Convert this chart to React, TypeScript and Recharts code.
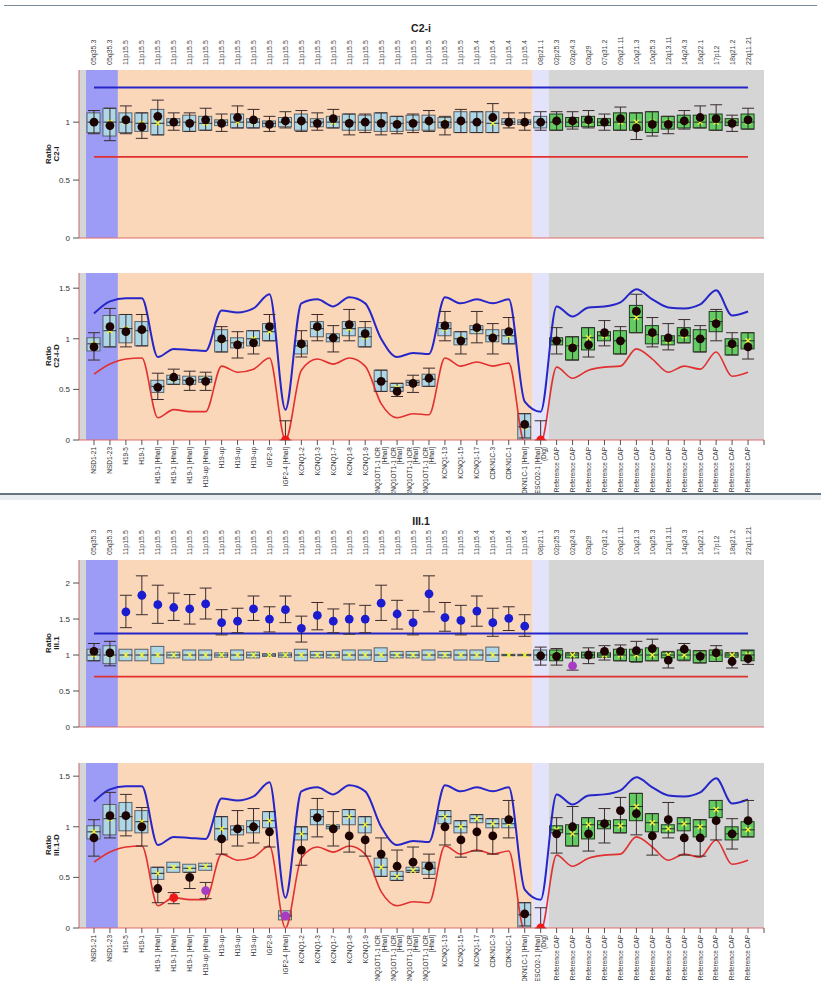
import React from 'react';
import {
  ComposedChart,
  XAxis,
  YAxis,
  Bar,
  Line,
  Scatter,
  ErrorBar,
  ReferenceArea,
  ReferenceLine,
} from 'recharts';

// chromosome bands (top axis) and probe names (bottom axis), one per probe
const BANDS = [
  '05q35.3', '05q35.3',
  '11p15.5', '11p15.5', '11p15.5', '11p15.5', '11p15.5', '11p15.5', '11p15.5', '11p15.5', '11p15.5', '11p15.5', '11p15.5',
  '11p15.5', '11p15.5', '11p15.5', '11p15.5', '11p15.5', '11p15.5', '11p15.5', '11p15.5', '11p15.5', '11p15.5', '11p15.5',
  '11p15.4', '11p15.4', '11p15.4', '11p15.4',
  '08p21.1',
  '02p25.3', '02q24.3', '03q29', '07q31.2', '09q21.11', '10q21.3', '10q25.3', '12q13.11', '14q24.3', '16q22.1', '17p12', '18q21.2', '22q11.21',
];

const PROBES = [
  'NSD1-21', 'NSD1-23', 'H19-5', 'H19-1', 'H19-1 [HhaI]', 'H19-1 [HhaI]', 'H19-1 [HhaI]', 'H19-up [HhaI]', 'H19-up', 'H19-up', 'H19-up',
  'IGF2-8', 'IGF2-4 [HhaI]', 'KCNQ1-2', 'KCNQ1-3', 'KCNQ1-7', 'KCNQ1-8', 'KCNQ1-9',
  'KCNQ1OT1-1 ICR\n[HhaI]', 'KCNQ1OT1-1 ICR\n[HhaI]', 'KCNQ1OT1-1 ICR\n[HhaI]', 'KCNQ1OT1-1 ICR\n[HhaI]',
  'KCNQ1-13', 'KCNQ1-15', 'KCNQ1-17', 'CDKN1C-3', 'CDKN1C-1', 'CDKN1C-1 [HhaI]', 'ESCO2-1 [HhaI]\n(Dig)',
  'Reference CAP', 'Reference CAP', 'Reference CAP', 'Reference CAP', 'Reference CAP', 'Reference CAP', 'Reference CAP',
  'Reference CAP', 'Reference CAP', 'Reference CAP', 'Reference CAP', 'Reference CAP', 'Reference CAP',
];

// shaded regions, in probe-index units
const REGIONS = [
  { from: 0.06, to: 0.5, fill: '#d5d5d5' },
  { from: 0.5, to: 2.5, fill: '#9c9cf6' },
  { from: 2.5, to: 28.5, fill: '#fbd7ba' },
  { from: 28.5, to: 29.5, fill: '#e3e3fb' },
  { from: 29.5, to: 43, fill: '#d5d5d5' },
];
const FIRST_REF = 30;

// ---- C2-i ratio
const C2I_MEAN = [1.00, 0.97, 1.02, 0.96, 1.05, 1.00, 0.99, 1.02, 0.99, 1.04, 1.02, 0.98, 1.01, 1.01, 0.99, 1.03, 0.99, 1.00, 0.99, 0.98, 0.99, 1.01, 0.98, 1.01, 1.00, 1.04, 1.00, 1.00, 1.00, 1.01, 1.01, 1.02, 1.00, 1.03, 0.95, 0.98, 0.98, 1.01, 1.04, 1.03, 0.99, 1.02];
const C2I_LO = [0.91, 0.88, 0.91, 0.92, 0.89, 0.97, 0.92, 0.93, 0.97, 0.95, 0.95, 0.96, 0.96, 0.93, 0.96, 0.95, 0.93, 0.93, 0.92, 0.92, 0.93, 0.93, 0.95, 0.91, 0.91, 0.91, 0.98, 0.98, 0.95, 0.93, 0.96, 0.96, 0.97, 0.93, 0.93, 0.91, 0.94, 0.95, 0.95, 0.93, 0.97, 0.94];
const C2I_HI = [1.08, 1.12, 1.08, 1.08, 1.11, 1.03, 1.06, 1.05, 1.02, 1.07, 1.03, 1.01, 1.04, 1.07, 1.03, 1.05, 1.07, 1.06, 1.08, 1.05, 1.06, 1.06, 1.04, 1.09, 1.09, 1.09, 1.03, 1.02, 1.05, 1.07, 1.04, 1.05, 1.03, 1.08, 1.08, 1.09, 1.05, 1.06, 1.06, 1.07, 1.03, 1.07];
const C2I_MED = [1.00, 1.00, 1.00, 0.99, 0.99, 1.00, 1.00, 0.99, 1.00, 1.00, 1.00, 0.99, 1.00, 1.00, 1.00, 1.00, 1.00, 1.00, 1.00, 0.99, 1.00, 1.00, 1.00, 1.00, 1.00, 0.99, 1.00, 1.00, 1.00, 1.00, 1.00, 1.00, 1.00, 1.00, 1.00, 1.00, 1.00, 1.00, 1.00, 1.00, 1.00, 1.00];
const C2I_WLO = [0.90, 0.84, 0.90, 0.86, 0.89, 0.93, 0.92, 0.93, 0.92, 0.95, 0.95, 0.92, 0.95, 0.92, 0.93, 0.95, 0.89, 0.91, 0.89, 0.90, 0.91, 0.92, 0.89, 0.91, 0.91, 0.91, 0.95, 0.93, 0.93, 0.93, 0.94, 0.95, 0.93, 0.93, 0.85, 0.88, 0.90, 0.94, 0.95, 0.93, 0.92, 0.94];
const C2I_WHI = [1.10, 1.12, 1.14, 1.08, 1.19, 1.08, 1.08, 1.12, 1.07, 1.14, 1.11, 1.05, 1.09, 1.10, 1.08, 1.11, 1.07, 1.07, 1.08, 1.05, 1.07, 1.10, 1.05, 1.11, 1.09, 1.16, 1.08, 1.08, 1.09, 1.09, 1.09, 1.10, 1.07, 1.13, 1.08, 1.09, 1.05, 1.10, 1.14, 1.15, 1.06, 1.12];
const C2I_DOTS = 'kkkkkkkkkkkkkkkkkkkkkkkkkkkkkkkkkkkkkkkkkk';

// ---- C2-i-D ratio
const C2ID_MEAN = [0.92, 1.12, 1.07, 1.09, 0.52, 0.62, 0.58, 0.58, 1.00, 0.94, 0.96, 1.12, 0.00, 0.95, 1.12, 1.01, 1.14, 1.05, 0.58, 0.48, 0.56, 0.61, 1.13, 0.98, 1.11, 1.01, 1.07, 0.155, 0.00, 0.98, 0.91, 0.94, 1.06, 0.98, 1.27, 1.06, 1.01, 1.06, 1.00, 1.15, 0.95, 0.92];
const C2ID_LO = [0.88, 0.92, 0.96, 0.93, 0.47, 0.55, 0.55, 0.57, 0.87, 0.91, 0.93, 0.98, null, 0.85, 1.02, 0.97, 1.03, 0.92, 0.48, 0.48, 0.54, 0.53, 1.03, 0.94, 1.05, 0.97, 0.95, 0.00, null, 0.94, 0.79, 0.89, 0.98, 0.85, 1.06, 0.95, 0.94, 0.96, 0.87, 1.07, 0.84, 0.90];
const C2ID_HI = [1.01, 1.23, 1.24, 1.17, 0.59, 0.64, 0.63, 0.63, 1.09, 1.01, 1.08, 1.15, null, 0.98, 1.17, 1.05, 1.17, 1.11, 0.69, 0.56, 0.59, 0.65, 1.16, 1.07, 1.13, 1.09, 1.09, 0.26, null, 1.01, 1.02, 1.11, 1.07, 1.08, 1.33, 1.13, 1.03, 1.11, 1.09, 1.27, 1.00, 1.06];
const C2ID_MED = [0.95, 1.08, 1.10, 1.08, 0.53, 0.60, 0.59, 0.60, 0.98, 0.96, 1.00, 1.07, null, 0.93, 1.10, 1.01, 1.10, 1.02, 0.58, 0.52, 0.57, 0.60, 1.10, 1.00, 1.09, 1.03, 1.03, 0.13, null, 0.98, 0.93, 1.01, 1.03, 0.98, 1.21, 1.04, 0.98, 1.03, 1.00, 1.17, 0.93, 0.98];
const C2ID_WLO = [0.79, 0.92, 0.92, 0.93, 0.40, 0.55, 0.49, 0.49, 0.87, 0.81, 0.85, 0.98, 0.00, 0.82, 0.98, 0.87, 0.98, 0.92, 0.48, 0.43, 0.47, 0.53, 0.98, 0.85, 0.96, 0.85, 0.95, 0.02, 0.00, 0.85, 0.79, 0.82, 0.93, 0.85, 1.06, 0.92, 0.89, 0.96, 0.87, 0.98, 0.84, 0.80];
const C2ID_WHI = [1.06, 1.30, 1.24, 1.24, 0.66, 0.70, 0.68, 0.67, 1.12, 1.07, 1.08, 1.24, 0.19, 1.08, 1.24, 1.13, 1.29, 1.17, 0.69, 0.56, 0.64, 0.71, 1.27, 1.07, 1.27, 1.15, 1.21, 0.26, 0.19, 1.11, 1.02, 1.11, 1.18, 1.12, 1.44, 1.21, 1.15, 1.19, 1.13, 1.29, 1.06, 1.06];
const C2ID_DOTS = 'kkkkkkkkkkkkrkkkkkkkkkkkkkkkrkkkkkkkkkkkkk';

// ---- III.1 ratio
const III1_MEAN = [1.05, 1.03, 1.60, 1.83, 1.70, 1.66, 1.64, 1.71, 1.45, 1.47, 1.64, 1.50, 1.63, 1.37, 1.55, 1.47, 1.50, 1.50, 1.72, 1.57, 1.45, 1.85, 1.52, 1.48, 1.61, 1.45, 1.51, 1.40, 0.99, 0.98, 0.85, 1.00, 1.05, 1.05, 1.06, 1.09, 0.93, 1.08, 0.98, 1.03, 0.91, 0.95];
const III1_LO = [0.92, 0.88, 0.92, 0.92, 0.88, 0.96, 0.93, 0.93, 0.97, 0.93, 0.96, 0.98, 0.97, 0.92, 0.96, 0.96, 0.93, 0.93, 0.91, 0.96, 0.96, 0.93, 0.96, 0.93, 0.93, 0.91, 0.99, 0.99, 0.93, 0.92, 0.96, 0.96, 0.97, 0.92, 0.91, 0.92, 0.96, 0.93, 0.89, 0.91, 0.97, 0.92];
const III1_HI = [1.08, 1.13, 1.08, 1.08, 1.12, 1.04, 1.07, 1.07, 1.03, 1.07, 1.04, 1.02, 1.03, 1.08, 1.05, 1.05, 1.07, 1.07, 1.10, 1.05, 1.05, 1.07, 1.05, 1.07, 1.07, 1.11, 1.01, 1.01, 1.07, 1.07, 1.03, 1.04, 1.03, 1.08, 1.08, 1.10, 1.04, 1.07, 1.06, 1.07, 1.03, 1.07];
const III1_MED = [1.00, 1.00, 1.00, 1.00, 1.00, 1.00, 1.00, 1.00, 1.00, 1.00, 1.00, 1.00, 1.00, 1.00, 1.00, 1.00, 1.00, 1.00, 1.00, 1.00, 1.00, 1.00, 1.00, 1.00, 1.00, 1.00, 1.00, 1.00, 1.00, 1.00, 1.00, 1.00, 1.00, 1.00, 1.00, 1.00, 1.00, 1.00, 1.00, 1.00, 1.00, 1.00];
const III1_WLO = [0.92, 0.85, 1.38, 1.56, 1.44, 1.48, 1.43, 1.50, 1.28, 1.31, 1.48, 1.32, 1.45, 1.18, 1.35, 1.31, 1.29, 1.31, 1.48, 1.36, 1.28, 1.60, 1.33, 1.28, 1.40, 1.26, 1.34, 1.26, 0.86, 0.86, 0.79, 0.88, 0.93, 0.92, 0.90, 0.92, 0.82, 0.92, 0.89, 0.91, 0.82, 0.87];
const III1_WHI = [1.16, 1.19, 1.83, 2.10, 1.97, 1.86, 1.84, 1.93, 1.63, 1.65, 1.82, 1.67, 1.82, 1.54, 1.73, 1.64, 1.71, 1.69, 1.97, 1.76, 1.62, 2.10, 1.73, 1.69, 1.82, 1.65, 1.67, 1.56, 1.11, 1.09, 1.03, 1.10, 1.13, 1.14, 1.19, 1.22, 1.05, 1.16, 1.06, 1.13, 1.03, 1.06];
const III1_DOTS = 'kkbbbbbbbbbbbbbbbbbbbbbbbbbbkkpkkkkkkkkkkk';

// ---- III.1-D ratio
const III1D_MEAN = [0.89, 1.11, 1.11, 1.00, 0.39, 0.30, 0.50, 0.37, 0.88, 0.98, 1.00, 0.95, 0.12, 0.77, 1.09, 0.98, 0.91, 0.87, 0.73, 0.61, 0.65, 0.61, 1.00, 0.87, 0.95, 0.91, 1.07, 0.14, 0.00, 0.93, 1.00, 0.93, 1.03, 1.16, 1.13, 0.91, 1.07, 0.89, 0.89, 1.06, 0.93, 1.06];
const III1D_LO = [0.88, 0.92, 0.96, 0.94, 0.48, 0.55, 0.55, 0.57, 0.87, 0.92, 0.94, 0.99, 0.08, 0.87, 1.02, 0.98, 1.02, 0.94, 0.51, 0.47, 0.55, 0.53, 1.03, 0.94, 1.04, 0.99, 0.99, 0.00, null, 0.94, 0.81, 0.88, 0.98, 0.94, 1.06, 0.95, 0.94, 0.96, 0.90, 1.09, 0.87, 0.90];
const III1D_HI = [1.01, 1.22, 1.24, 1.16, 0.60, 0.65, 0.63, 0.64, 1.10, 1.01, 1.06, 1.15, 0.17, 1.00, 1.17, 1.02, 1.17, 1.10, 0.69, 0.56, 0.60, 0.65, 1.16, 1.06, 1.12, 1.08, 1.08, 0.25, null, 1.01, 1.02, 1.09, 1.06, 1.07, 1.33, 1.13, 1.02, 1.09, 1.07, 1.26, 1.00, 1.05];
const III1D_MED = [0.95, 1.08, 1.10, 1.05, 0.54, 0.60, 0.59, 0.61, 0.98, 0.97, 1.00, 1.06, 0.12, 0.93, 1.10, 1.00, 1.10, 1.02, 0.60, 0.51, 0.57, 0.59, 1.10, 1.00, 1.08, 1.03, 1.03, 0.13, null, 0.97, 0.93, 1.02, 1.02, 1.01, 1.20, 1.04, 0.98, 1.03, 1.00, 1.17, 0.93, 0.97];
const III1D_WLO = [0.71, 0.89, 0.91, 0.81, 0.25, 0.24, 0.39, 0.29, 0.73, 0.81, 0.84, 0.80, null, 0.62, 0.90, 0.81, 0.75, 0.71, 0.51, 0.47, 0.55, 0.49, 0.82, 0.70, 0.76, 0.73, 0.89, 0.02, 0.00, 0.74, 0.81, 0.76, 0.84, 0.94, 0.92, 0.72, 0.89, 0.72, 0.71, 0.87, 0.78, 0.90];
const III1D_WHI = [1.07, 1.34, 1.32, 1.19, 0.60, 0.35, 0.55, 0.45, 1.10, 1.16, 1.18, 1.15, null, 1.00, 1.28, 1.15, 1.17, 1.10, 0.89, 0.77, 0.80, 0.73, 1.16, 1.06, 1.12, 1.08, 1.26, 0.25, 0.20, 1.09, 1.20, 1.09, 1.18, 1.29, 1.33, 1.13, 1.24, 1.09, 1.07, 1.26, 1.08, 1.26];
const III1D_DOTS = 'kkkkkrkpkkkkpkkkkkkkkkkkkkkkrkkkkkkkkkkkkk';

// limits: flat for the ratio panels, per-probe curves for the -D panels
const UPPER_FLAT = 1.3;
const LOWER_FLAT = 0.7;
const UPPER_D = [1.25, 1.37, 1.40, 1.40, 0.82, 0.90, 0.89, 0.88, 1.28, 1.26, 1.30, 1.44, 0.30, 1.35, 1.39, 1.32, 1.41, 1.35, 1.00, 0.82, 0.86, 0.85, 1.41, 1.35, 1.39, 1.35, 1.39, 0.38, 0.28, 1.32, 1.22, 1.31, 1.32, 1.36, 1.49, 1.39, 1.31, 1.30, 1.34, 1.48, 1.23, 1.27];
const LOWER_D = [0.65, 0.75, 0.80, 0.81, 0.22, 0.30, 0.28, 0.28, 0.73, 0.67, 0.70, 0.81, 0.00, 0.69, 0.80, 0.75, 0.81, 0.73, 0.36, 0.22, 0.26, 0.25, 0.81, 0.73, 0.77, 0.73, 0.76, -0.03, -0.03, 0.72, 0.61, 0.69, 0.72, 0.73, 0.90, 0.80, 0.67, 0.73, 0.70, 0.87, 0.63, 0.67];

const DOT_COLORS: Record<string, string> = { k: '#1c0404', b: '#1b1bd0', r: '#ee1a1a', p: '#a63cc4' };
const X_TICKS = [...PROBES.map((_, k) => k + 1), 43];
const W = 821;
const FONT = '"Liberation Sans", Arial, sans-serif';

type Series = {
  mean: number[];
  lo: (number | null)[];
  hi: (number | null)[];
  med: (number | null)[];
  wlo: (number | null)[];
  whi: (number | null)[];
  dots: string;
};

function buildRows(s: Series, up?: number[], dn?: number[]) {
  return PROBES.map((_, k) => {
    const lo = s.lo[k];
    const hi = s.hi[k];
    const wlo = s.wlo[k];
    const whi = s.whi[k];
    return {
      i: k + 1,
      mean: s.mean[k],
      box: lo == null || hi == null ? null : [lo, hi],
      med: s.med[k],
      err: wlo == null || whi == null ? undefined : [Math.max(0, s.mean[k] - wlo), Math.max(0, whi - s.mean[k])],
      dot: s.dots[k],
      up: up ? up[k] : undefined,
      dn: dn ? dn[k] : undefined,
    };
  });
}

function BandTick(props: any) {
  const { x, y, payload } = props;
  const label = BANDS[payload.value - 1];
  if (!label) return <g />;
  return (
    <text transform={`translate(${x + 2.5},${y}) rotate(-90)`} textAnchor="start" fontSize={7} fill="#444">
      {label}
    </text>
  );
}

function ProbeTick(props: any) {
  const { x, y, payload } = props;
  const label = PROBES[payload.value - 1];
  if (!label) return <g />;
  const lines = label.split('\n');
  return (
    <g transform={`translate(${x},${y}) rotate(-90)`}>
      {lines.map((t, k) => (
        <text key={k} x={0} y={2.3 + (k - (lines.length - 1) / 2) * 6.2} textAnchor="end" fontSize={6.5} fill="#333">
          {t}
        </text>
      ))}
    </g>
  );
}

const boxShape = (p: any) => {
  if (!p.payload.box) return <g />;
  const ref = p.payload.i >= FIRST_REF;
  const y = Math.min(p.y, p.y + p.height);
  const h = Math.abs(p.height);
  return (
    <rect x={p.x} y={y} width={p.width} height={h}
      fill={ref ? '#62cc62' : '#add6e6'} stroke={ref ? '#203a20' : '#5a6268'} strokeWidth={1} />
  );
};

const medShape = (p: any) => {
  if (p.payload.med == null) return <g />;
  const { cx, cy } = p;
  return (
    <g>
      <line x1={cx - 6.5} x2={cx + 6.5} y1={cy} y2={cy} stroke="#2a2a2a" strokeWidth={1} />
      <path d={`M${cx - 2.5},${cy - 2.5}L${cx + 2.5},${cy + 2.5}M${cx - 2.5},${cy + 2.5}L${cx + 2.5},${cy - 2.5}`}
        stroke="#f4f43a" strokeWidth={1.3} />
    </g>
  );
};

const dotShape = (p: any) => (
  <circle cx={p.cx} cy={p.cy} r={4.4} fill={DOT_COLORS[p.payload.dot] || DOT_COLORS.k} />
);

type ChartProps = {
  rows: any[];
  height: number;
  margin: { top: number; right: number; bottom: number; left: number };
  domain: [number, number];
  yTicks: number[];
  bands?: boolean;
  probes?: boolean;
  curves?: boolean;
};

function RatioChart({ rows, height, margin, domain, yTicks, bands, probes, curves }: ChartProps) {
  return (
    <ComposedChart width={W} height={height} data={rows} margin={margin}>
      {bands && (
        <XAxis xAxisId="t" orientation="top" type="number" dataKey="i" domain={[0.06, 43]} allowDataOverflow
          ticks={X_TICKS} interval={0} height={40} tick={<BandTick />} tickLine={false} axisLine={false}
          tickSize={0} tickMargin={5} />
      )}
      <XAxis xAxisId="b" type="number" dataKey="i" domain={[0.06, 43]} allowDataOverflow
        ticks={X_TICKS} interval={0} height={probes ? 53 : 8}
        tick={probes ? <ProbeTick /> : false} tickSize={5} tickMargin={2}
        axisLine={{ stroke: '#e06a6a' }} tickLine={{ stroke: '#555' }} />
      <YAxis type="number" domain={domain} ticks={yTicks} interval={0} allowDataOverflow width={79}
        tick={{ fontSize: 8, fill: '#333' }} tickSize={6} tickMargin={3}
        axisLine={{ stroke: '#c46a6a' }} tickLine={{ stroke: '#555' }} />
      {REGIONS.map((r, k) => (
        <ReferenceArea key={k} xAxisId="b" x1={r.from} x2={r.to} fill={r.fill} fillOpacity={1} stroke="none" />
      ))}
      {curves ? (
        <Line xAxisId="b" dataKey="up" type="monotone" dot={false} stroke="#2626c8" strokeWidth={2} isAnimationActive={false} />
      ) : (
        <ReferenceLine xAxisId="b" segment={[{ x: 1, y: UPPER_FLAT }, { x: 42, y: UPPER_FLAT }]} stroke="#2626c8" strokeWidth={2} />
      )}
      {curves ? (
        <Line xAxisId="b" dataKey="dn" type="monotone" dot={false} stroke="#e03030" strokeWidth={1.6} isAnimationActive={false} />
      ) : (
        <ReferenceLine xAxisId="b" segment={[{ x: 1, y: LOWER_FLAT }, { x: 42, y: LOWER_FLAT }]} stroke="#e03030" strokeWidth={1.6} />
      )}
      <Bar xAxisId="b" dataKey="box" barSize={13} shape={boxShape} isAnimationActive={false} />
      <Scatter xAxisId="b" dataKey="med" shape={medShape} isAnimationActive={false} />
      <Scatter xAxisId="b" dataKey="mean" shape={dotShape} isAnimationActive={false}>
        <ErrorBar dataKey="err" direction="y" width={6} stroke="#3a2c2c" strokeWidth={1} />
      </Scatter>
    </ComposedChart>
  );
}

function YLabel({ top, lines }: { top: number; lines: string[] }) {
  return (
    <div style={{
      position: 'absolute', left: 53, top, transform: 'translate(-50%, -50%) rotate(-90deg)',
      fontSize: 8, fontWeight: 'bold', lineHeight: '8px', textAlign: 'center', color: '#222', whiteSpace: 'nowrap',
    }}>
      {lines.map((l) => <div key={l}>{l}</div>)}
    </div>
  );
}

function Title({ top, text }: { top: number; text: string }) {
  return (
    <div style={{ position: 'absolute', left: 321, width: 200, top, textAlign: 'center', fontSize: 10.5, fontWeight: 'bold', color: '#222' }}>
      {text}
    </div>
  );
}

export default function App() {
  const c2i = buildRows({ mean: C2I_MEAN, lo: C2I_LO, hi: C2I_HI, med: C2I_MED, wlo: C2I_WLO, whi: C2I_WHI, dots: C2I_DOTS });
  const c2id = buildRows({ mean: C2ID_MEAN, lo: C2ID_LO, hi: C2ID_HI, med: C2ID_MED, wlo: C2ID_WLO, whi: C2ID_WHI, dots: C2ID_DOTS }, UPPER_D, LOWER_D);
  const iii1 = buildRows({ mean: III1_MEAN, lo: III1_LO, hi: III1_HI, med: III1_MED, wlo: III1_WLO, whi: III1_WHI, dots: III1_DOTS });
  const iii1d = buildRows({ mean: III1D_MEAN, lo: III1D_LO, hi: III1D_HI, med: III1D_MED, wlo: III1D_WLO, whi: III1D_WHI, dots: III1D_DOTS }, UPPER_D, LOWER_D);

  return (
    <div style={{ position: 'absolute', left: 0, top: 0, width: W, height: 981, background: '#fff', fontFamily: FONT, overflow: 'hidden' }}>
      <div style={{ position: 'absolute', left: 4, right: 4, top: 5, height: 0, borderTop: '1.5px solid #7b8b96' }} />

      <Title top={22} text="C2-i" />
      <div style={{ position: 'absolute', left: 0, top: 0 }}>
        <RatioChart rows={c2i} height={250} margin={{ top: 30, right: 57, bottom: 4, left: 0 }}
          domain={[0, 1.45]} yTicks={[0, 0.5, 1]} bands />
      </div>
      <YLabel top={154} lines={['Ratio', 'C2-i']} />

      <div style={{ position: 'absolute', left: 0, top: 250 }}>
        <RatioChart rows={c2id} height={243} margin={{ top: 23, right: 57, bottom: 0, left: 0 }}
          domain={[0, 1.65]} yTicks={[0, 0.5, 1, 1.5]} probes curves />
      </div>
      <YLabel top={356} lines={['Ratio', 'C2-i-D']} />

      <div style={{ position: 'absolute', left: 0, right: 0, top: 493, height: 2, background: '#66757f' }} />
      <div style={{ position: 'absolute', left: 0, right: 0, top: 495, height: 5, background: '#e9edf0' }} />

      <Title top={515} text="III.1" />
      <div style={{ position: 'absolute', left: 0, top: 495 }}>
        <RatioChart rows={iii1} height={245} margin={{ top: 25, right: 57, bottom: 5, left: 0 }}
          domain={[0, 2.32]} yTicks={[0, 0.5, 1, 1.5, 2]} bands />
      </div>
      <YLabel top={643} lines={['Ratio', 'III.1']} />

      <div style={{ position: 'absolute', left: 0, top: 740 }}>
        <RatioChart rows={iii1d} height={241} margin={{ top: 23, right: 57, bottom: 0, left: 0 }}
          domain={[0, 1.63]} yTicks={[0, 0.5, 1, 1.5]} probes curves />
      </div>
      <YLabel top={845} lines={['Ratio', 'III.1-D']} />
    </div>
  );
}
